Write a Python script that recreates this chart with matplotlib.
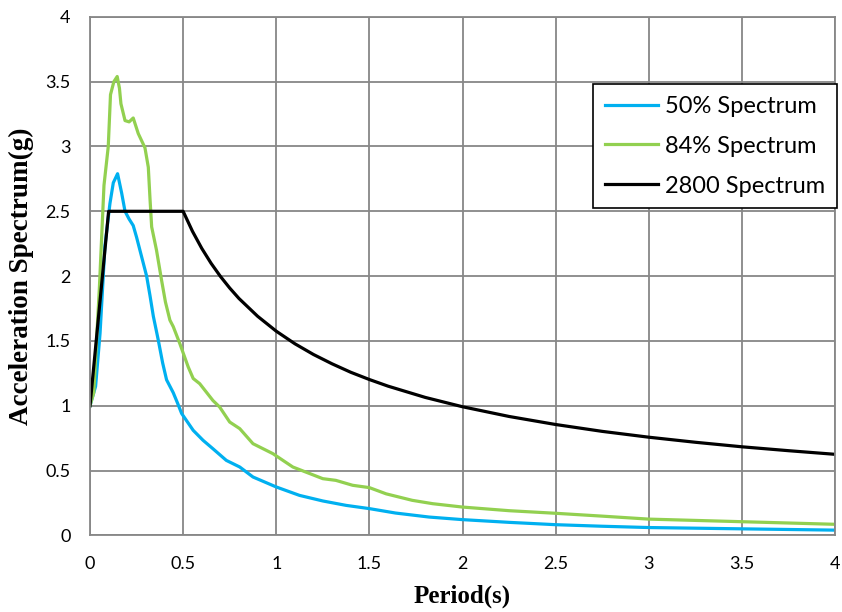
import numpy as np
import matplotlib
matplotlib.use('Agg')
import matplotlib.pyplot as plt

# 50% 스펙트럼
t50 = [0, 0.03, 0.054, 0.08, 0.107, 0.125, 0.148, 0.17, 0.188, 0.21, 0.232, 0.25, 0.268, 0.286,
       0.304, 0.322, 0.34, 0.366, 0.39, 0.411, 0.447, 0.47, 0.492, 0.554, 0.607, 0.66, 0.732,
       0.804, 0.875, 1.0, 1.125, 1.25, 1.375, 1.5, 1.64, 1.82, 2.0, 2.25, 2.5, 2.75, 3.0, 3.5, 4.0]
sa50 = [1.0, 1.15, 1.56, 2.23, 2.56, 2.72, 2.79, 2.64, 2.50, 2.44, 2.39, 2.30, 2.20, 2.10,
        2.0, 1.85, 1.69, 1.51, 1.33, 1.20, 1.10, 1.02, 0.94, 0.81, 0.733, 0.668, 0.578,
        0.527, 0.45, 0.373, 0.308, 0.265, 0.231, 0.206, 0.172, 0.141, 0.121, 0.10, 0.082, 0.07,
        0.06, 0.05, 0.04]

# 84% 스펙트럼
t84 = [0, 0.02, 0.05, 0.075, 0.098, 0.11, 0.128, 0.146, 0.158, 0.166, 0.188, 0.21, 0.232, 0.259,
       0.295, 0.313, 0.322, 0.331, 0.357, 0.384, 0.405, 0.429, 0.447, 0.482, 0.527, 0.554, 0.589,
       0.66, 0.696, 0.75, 0.804, 0.875, 0.982, 1.089, 1.25, 1.32, 1.41, 1.5, 1.59, 1.73, 1.84,
       2.0, 2.25, 2.5, 2.75, 3.0, 3.5, 4.0]
sa84 = [1.0, 1.1, 1.9, 2.7, 3.0, 3.4, 3.5, 3.54, 3.45, 3.33, 3.20, 3.19, 3.22, 3.10,
        2.99, 2.84, 2.60, 2.38, 2.20, 1.97, 1.80, 1.66, 1.61, 1.48, 1.30, 1.21, 1.17, 1.04,
        0.99, 0.874, 0.823, 0.707, 0.63, 0.527, 0.437, 0.424, 0.386, 0.368, 0.32, 0.27, 0.244,
        0.218, 0.19, 0.17, 0.148, 0.125, 0.105, 0.085]

# 2800 기준 스펙트럼
t2800 = [0, 0.1, 0.5, 0.55, 0.6, 0.65, 0.7, 0.75, 0.8, 0.9, 1.0, 1.1, 1.2, 1.3, 1.4, 1.5,
         1.6, 1.8, 2.0, 2.25, 2.5, 2.75, 3.0, 3.25, 3.5, 3.75, 4.0]
sa2800 = [1.0, 2.5, 2.5, 2.346, 2.214, 2.099, 1.998, 1.908, 1.827, 1.690, 1.575, 1.478, 1.395,
          1.323, 1.258, 1.202, 1.151, 1.064, 0.992, 0.917, 0.855, 0.802, 0.757, 0.718, 0.683,
          0.653, 0.625]

xticks = [0, 0.5, 1, 1.5, 2, 2.5, 3, 3.5, 4]
yticks = [0, 0.5, 1, 1.5, 2, 2.5, 3, 3.5, 4]

fig = plt.figure(figsize=(8.42, 6.12), dpi=100)
ax = fig.add_axes([0.1069, 0.1253, 0.8848, 0.8471])

ax.plot(t50, sa50, color='#00B0F0', lw=2.3, label='50% Spectrum')
ax.plot(t84, sa84, color='#92D050', lw=2.3, label='84% Spectrum')
ax.plot(t2800, sa2800, color='black', lw=2.3, label='2800 Spectrum')

ax.set_xlim(0, 4)
ax.set_ylim(0, 4)
ax.set_xticks(xticks)
ax.set_yticks(yticks)
ax.set_xticklabels([f'{v:g}' for v in xticks], family='Lato', fontsize=13)
ax.set_yticklabels([f'{v:g}' for v in yticks], family='Lato', fontsize=13)
ax.tick_params(axis='x', length=0, pad=15)
ax.tick_params(axis='y', length=0, pad=14)
ax.grid(True, color='#878787', lw=1.3)
ax.set_axisbelow(True)
for s in ax.spines.values():
    s.set_color('#878787')
    s.set_linewidth(1.3)

ax.set_xlabel('Period(s)', family='Liberation Serif', fontweight='bold', fontsize=18, labelpad=9)
ax.set_ylabel('Acceleration Spectrum(g)', family='Liberation Serif', fontweight='bold', fontsize=19.5, labelpad=8)

leg = ax.legend(loc='upper right', bbox_to_anchor=(1.003, 0.8706), prop={'family': 'Lato', 'size': 17},
                fancybox=False, edgecolor='black', framealpha=1, borderaxespad=0, borderpad=0.5,
                handlelength=2.25, handletextpad=0.3, labelspacing=0.8)
leg.get_frame().set_linewidth(1.2)

plt.savefig('out.png', dpi=100)
